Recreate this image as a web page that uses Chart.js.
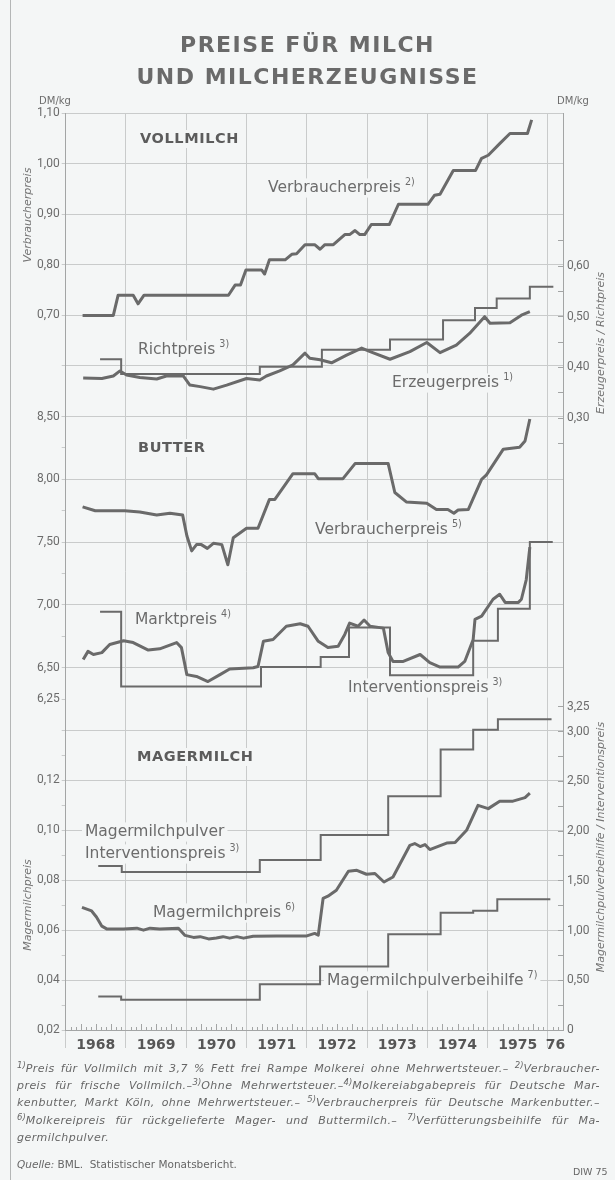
<!DOCTYPE html>
<html>
<head>
<meta charset="utf-8">
<script src="https://cdn.jsdelivr.net/npm/chart.js@4.4.0/dist/chart.umd.min.js"></script>
<style>
html,body{margin:0;padding:0;background:#f4f6f6;}
#page{position:relative;width:615px;height:1180px;overflow:hidden;background:#f4f6f6;}
#wrap{position:absolute;left:0;top:0;width:615px;height:1180px;}
#title{position:absolute;left:0;top:29px;width:615px;text-align:center;font-family:"DejaVu Sans",sans-serif;font-weight:bold;font-size:22px;line-height:32px;letter-spacing:1.5px;color:#6a6a6a;}
#notes{position:absolute;left:17px;top:1060px;width:583px;font-family:"DejaVu Sans",sans-serif;font-style:italic;font-size:11px;letter-spacing:0.45px;line-height:17.2px;color:#666;}
#notes .j{text-align:justify;text-align-last:justify;}
#notes sup{font-size:8.5px;line-height:0;vertical-align:4px;letter-spacing:0;}
#quelle{position:absolute;left:17px;top:1158px;font-family:"DejaVu Sans",sans-serif;font-size:10.5px;color:#666;}
#quelle i{font-style:italic;}
#diw{position:absolute;left:573px;top:1166px;font-family:"DejaVu Sans",sans-serif;font-size:9.5px;color:#666;}
</style>
</head>
<body>
<div id="page">
  <div id="wrap"><canvas id="c"></canvas></div>
  <div id="title">PREISE FÜR MILCH<br>UND MILCHERZEUGNISSE</div>
  <div id="notes">
    <div class="j"><sup>1)</sup>Preis für Vollmilch mit 3,7 % Fett frei Rampe Molkerei ohne Mehrwertsteuer.– <sup>2)</sup>Verbraucher-</div>
    <div class="j">preis für frische Vollmilch.–<sup>3)</sup>Ohne Mehrwertsteuer.–<sup>4)</sup>Molkereiabgabepreis für Deutsche Mar-</div>
    <div class="j">kenbutter, Markt Köln, ohne Mehrwertsteuer.– <sup>5)</sup>Verbraucherpreis für Deutsche Markenbutter.–</div>
    <div class="j"><sup>6)</sup>Molkereipreis für rückgelieferte Mager- und Buttermilch.– <sup>7)</sup>Verfütterungsbeihilfe für Ma-</div>
    <div>germilchpulver.</div>
  </div>
  <div id="quelle"><i>Quelle:</i> BML. &nbsp;Statistischer Monatsbericht.</div>
  <div id="diw">DIW 75</div>
</div>
<script>
// ---------------- DATA ----------------
// x axis (years)
const yearLines    = [1968, 1969, 1970, 1971, 1972, 1973, 1974, 1975, 1976];
const yearLabelPos = [1968.5, 1969.5, 1970.5, 1971.5, 1972.5, 1973.5, 1974.5, 1975.5, 1976.125];
const yearLabels   = ['1968', '1969', '1970', '1971', '1972', '1973', '1974', '1975', '76'];

// Vollmilch – Verbraucherpreis (DM/kg, left axis)
const vollVbDates  = [1968.28, 1968.79, 1968.87, 1969.12, 1969.20, 1969.30, 1970.70, 1970.81, 1970.90, 1970.99, 1971.25, 1971.30, 1971.38, 1971.64, 1971.75, 1971.83, 1971.97, 1972.13, 1972.22, 1972.30, 1972.44, 1972.63, 1972.71, 1972.80, 1972.88, 1972.96, 1973.07, 1973.37, 1973.52, 1974.01, 1974.12, 1974.21, 1974.43, 1974.80, 1974.90, 1975.01, 1975.20, 1975.37, 1975.66, 1975.73];
const vollVbValues = [0.70, 0.70, 0.74, 0.74, 0.723, 0.74, 0.74, 0.76, 0.76, 0.79, 0.79, 0.782, 0.81, 0.81, 0.821, 0.822, 0.84, 0.84, 0.831, 0.84, 0.84, 0.86, 0.86, 0.868, 0.86, 0.86, 0.88, 0.88, 0.92, 0.92, 0.938, 0.94, 0.987, 0.987, 1.011, 1.017, 1.04, 1.06, 1.06, 1.087];

// Vollmilch – Erzeugerpreis (right axis)
const ezDates  = [1968.29, 1968.60, 1968.79, 1968.90, 1969.01, 1969.23, 1969.51, 1969.67, 1969.95, 1970.06, 1970.23, 1970.45, 1970.67, 1971.00, 1971.22, 1971.33, 1971.55, 1971.77, 1971.97, 1972.05, 1972.22, 1972.41, 1972.66, 1972.91, 1973.05, 1973.38, 1973.71, 1973.99, 1974.21, 1974.48, 1974.70, 1974.95, 1975.04, 1975.37, 1975.56, 1975.70];
const ezValues = [0.379, 0.378, 0.383, 0.393, 0.385, 0.380, 0.377, 0.383, 0.383, 0.365, 0.362, 0.357, 0.365, 0.378, 0.375, 0.383, 0.393, 0.405, 0.428, 0.418, 0.415, 0.409, 0.424, 0.438, 0.431, 0.416, 0.431, 0.449, 0.429, 0.444, 0.467, 0.500, 0.487, 0.488, 0.503, 0.510];

// Vollmilch – Richtpreis (right axis, step)
const rpDates  = [1968.57, 1968.92, 1971.22, 1972.25, 1973.38, 1974.26, 1974.79, 1975.15, 1975.70, 1976.09];
const rpValues = [0.416, 0.387, 0.401, 0.435, 0.455, 0.493, 0.517, 0.536, 0.559, 0.559];

// Butter – Verbraucherpreis
const bvDates  = [1968.28, 1968.49, 1968.98, 1969.23, 1969.51, 1969.73, 1969.94, 1970.01, 1970.09, 1970.17, 1970.25, 1970.35, 1970.45, 1970.59, 1970.69, 1970.78, 1971.00, 1971.19, 1971.38, 1971.47, 1971.77, 1972.13, 1972.19, 1972.60, 1972.80, 1973.35, 1973.46, 1973.65, 1973.99, 1974.15, 1974.34, 1974.44, 1974.51, 1974.68, 1974.90, 1974.98, 1975.26, 1975.53, 1975.62, 1975.70];
const bvValues = [7.78, 7.75, 7.75, 7.74, 7.715, 7.73, 7.715, 7.55, 7.43, 7.48, 7.48, 7.45, 7.49, 7.48, 7.32, 7.535, 7.61, 7.61, 7.84, 7.84, 8.045, 8.045, 8.005, 8.005, 8.125, 8.125, 7.895, 7.82, 7.81, 7.76, 7.76, 7.73, 7.755, 7.76, 8.00, 8.035, 8.24, 8.255, 8.305, 8.48];

// Butter – Marktpreis
const bmDates  = [1968.29, 1968.37, 1968.46, 1968.60, 1968.73, 1968.96, 1969.12, 1969.37, 1969.56, 1969.84, 1969.92, 1970.01, 1970.17, 1970.36, 1970.56, 1970.72, 1971.11, 1971.19, 1971.28, 1971.44, 1971.66, 1971.89, 1972.02, 1972.19, 1972.35, 1972.52, 1972.63, 1972.71, 1972.85, 1972.95, 1973.05, 1973.27, 1973.35, 1973.43, 1973.60, 1973.88, 1974.04, 1974.21, 1974.51, 1974.62, 1974.76, 1974.79, 1974.90, 1975.09, 1975.20, 1975.29, 1975.51, 1975.56, 1975.64, 1975.70];
const bmValues = [6.565, 6.63, 6.605, 6.62, 6.685, 6.715, 6.70, 6.64, 6.65, 6.70, 6.66, 6.445, 6.43, 6.39, 6.445, 6.49, 6.50, 6.51, 6.71, 6.725, 6.83, 6.85, 6.83, 6.71, 6.66, 6.67, 6.765, 6.855, 6.83, 6.88, 6.83, 6.815, 6.62, 6.55, 6.55, 6.605, 6.54, 6.505, 6.505, 6.55, 6.725, 6.885, 6.91, 7.045, 7.085, 7.02, 7.02, 7.045, 7.20, 7.46];

// Butter – Interventionspreis (step)
const biDates  = [1968.57, 1968.92, 1971.24, 1972.23, 1972.70, 1973.38, 1974.76, 1975.17, 1975.70, 1976.08];
const biValues = [6.945, 6.35, 6.505, 6.585, 6.82, 6.44, 6.715, 6.97, 7.50, 7.50];

// Magermilch – Magermilchpreis (left axis)
const mpDates  = [1968.27, 1968.43, 1968.51, 1968.60, 1968.68, 1968.96, 1969.18, 1969.29, 1969.40, 1969.56, 1969.87, 1969.98, 1970.12, 1970.23, 1970.37, 1970.50, 1970.61, 1970.72, 1970.84, 1970.95, 1971.11, 1971.50, 1972.00, 1972.13, 1972.19, 1972.27, 1972.35, 1972.49, 1972.69, 1972.83, 1972.99, 1973.13, 1973.28, 1973.43, 1973.71, 1973.79, 1973.88, 1973.96, 1974.04, 1974.32, 1974.46, 1974.65, 1974.84, 1975.01, 1975.20, 1975.42, 1975.62, 1975.70];
const mpValues = [0.0691, 0.0677, 0.0653, 0.0616, 0.0605, 0.0605, 0.0608, 0.0600, 0.0608, 0.0605, 0.0608, 0.0579, 0.0571, 0.0574, 0.0565, 0.0569, 0.0574, 0.0568, 0.0574, 0.0568, 0.0576, 0.0577, 0.0577, 0.0587, 0.0580, 0.0727, 0.0736, 0.0760, 0.0836, 0.0840, 0.0824, 0.0827, 0.0793, 0.0813, 0.0940, 0.0947, 0.0935, 0.0943, 0.0923, 0.0949, 0.0951, 0.1000, 0.1100, 0.1087, 0.1117, 0.1117, 0.1131, 0.1149];

// Magermilchpulver Interventionspreis (right axis, step)
const mipDates  = [1968.54, 1968.93, 1971.22, 1972.23, 1973.35, 1974.22, 1974.76, 1975.17, 1976.06];
const mipValues = [1.65, 1.59, 1.71, 1.96, 2.35, 2.82, 3.02, 3.125, 3.125];

// Magermilchpulverbeihilfe (right axis, step)
const mbDates  = [1968.54, 1968.92, 1971.22, 1972.22, 1973.35, 1974.22, 1974.76, 1975.16, 1976.04];
const mbValues = [0.337, 0.304, 0.46, 0.638, 0.964, 1.18, 1.20, 1.315, 1.315];

// axis ticks
const vollTicks      = [0.50, 0.60, 0.70, 0.80, 0.90, 1.00, 1.10];
const vollLabels     = [0.70, 0.80, 0.90, 1.00, 1.10];
const erzTicks       = [0.25, 0.30, 0.35, 0.40, 0.45, 0.50, 0.55, 0.60, 0.65];
const erzLabels      = [0.30, 0.40, 0.50, 0.60];
const butterTicks    = [6.25, 6.50, 6.75, 7.00, 7.25, 7.50, 7.75, 8.00, 8.25, 8.50];
const butterLabels   = [6.25, 6.50, 7.00, 7.50, 8.00, 8.50];
const butterGrid     = [6.50, 7.00, 7.50, 8.00, 8.50];
const magerTicks     = [0.02, 0.03, 0.04, 0.05, 0.06, 0.07, 0.08, 0.09, 0.10, 0.11, 0.12, 0.13, 0.14];
const magerLabels    = [0.02, 0.04, 0.06, 0.08, 0.10, 0.12];
const magerGrid      = [0.02, 0.04, 0.06, 0.08, 0.10, 0.12, 0.14];
const pulverTicks    = [0, 0.25, 0.50, 0.75, 1.00, 1.25, 1.50, 1.75, 2.00, 2.25, 2.50, 2.75, 3.00, 3.25];
const pulverLabels   = [0, 0.50, 1.00, 1.50, 2.00, 2.50, 3.00, 3.25];

// ---------------- STYLE ----------------
const BG = '#f4f6f6';
const GRID = '#c9cbcb';
const BORDER = '#a3a5a5';
const LINE = '#6a6a6a';
const TXT = '#6c6c6c';
const FONT = '"DejaVu Sans", sans-serif';

const near = (a, b) => Math.abs(a - b) < 1e-6;
const inList = (v, arr) => arr.some(a => near(a, v));
const deNum = v => near(v, 0) ? '0' : v.toFixed(2).replace('.', ',');
const pts = (xs, ys) => xs.map((x, i) => ({x: x, y: ys[i]}));
const setTicks = arr => (s => { s.ticks = arr.map(v => ({value: v})); });

Chart.defaults.font.family = 'Roboto, sans-serif';
Chart.defaults.font.size = 12;
Chart.defaults.color = TXT;

function leftAxis(min, max, weight, order, ticks, labels, grid) {
  return {
    type: 'linear', position: 'left', stack: 'L', stackWeight: weight, weight: order,
    min: min, max: max,
    afterBuildTicks: setTicks(ticks),
    afterFit: s => { s.width = 65.7; },
    ticks: {autoSkip: false, padding: 2, color: TXT, font: {size: 12},
      callback: v => inList(v, labels) ? deNum(v) : ''},
    grid: {color: c => (c.tick && inList(c.tick.value, grid)) ? GRID : 'rgba(0,0,0,0)',
      tickColor: GRID, tickLength: 4, lineWidth: 1},
    border: {color: BORDER}
  };
}
function rightAxis(min, max, weight, order, ticks, labels) {
  return {
    type: 'linear', position: 'right', stack: 'R', stackWeight: weight, weight: order,
    min: min, max: max,
    afterBuildTicks: setTicks(ticks),
    afterFit: s => { s.width = 52; },
    ticks: {autoSkip: false, padding: 9, color: TXT, font: {size: 12},
      callback: v => inList(v, labels) ? deNum(v) : ''},
    grid: {color: 'rgba(0,0,0,0)', tickColor: BORDER, tickLength: -5, lineWidth: 1},
    border: {color: BORDER}
  };
}

// labels inside plot
const plotLabels = [
  {t: 'VOLLMILCH', x: 140, y: 139, bold: true, size: 14.5},
  {t: 'Verbraucherpreis', sup: '2)', x: 268, y: 188, size: 15.5},
  {t: 'Richtpreis', sup: '3)', x: 138, y: 350, size: 15.5},
  {t: 'Erzeugerpreis', sup: '1)', x: 392, y: 383, size: 15.5},
  {t: 'BUTTER', x: 138, y: 448, bold: true, size: 14.5},
  {t: 'Verbraucherpreis', sup: '5)', x: 315, y: 530, size: 15.5},
  {t: 'Marktpreis', sup: '4)', x: 135, y: 620, size: 15.5},
  {t: 'Interventionspreis', sup: '3)', x: 348, y: 688, size: 15.5},
  {t: 'MAGERMILCH', x: 137, y: 757, bold: true, size: 14.5},
  {t: 'Magermilchpulver', x: 85, y: 832, size: 15.5},
  {t: 'Interventionspreis', sup: '3)', x: 85, y: 854, size: 15.5},
  {t: 'Magermilchpreis', sup: '6)', x: 153, y: 913, size: 15.5},
  {t: 'Magermilchpulverbeihilfe', sup: '7)', x: 327, y: 981, size: 15.5}
];
const axisTitles = [
  {t: 'Verbraucherpreis', x: 28, y: 215},
  {t: 'Erzeugerpreis / Richtpreis', x: 601, y: 343},
  {t: 'Magermilchpreis', x: 28, y: 905},
  {t: 'Magermilchpulverbeihilfe / Interventionspreis', x: 601, y: 847}
];

const annot = {
  id: 'annot',
  beforeDatasetsDraw(chart) {
    const ctx = chart.ctx;
    for (const L of plotLabels) {
      ctx.save();
      const f = (L.bold ? 'bold ' : '') + L.size + 'px ' + FONT;
      ctx.font = f;
      if (L.bold && 'letterSpacing' in ctx) ctx.letterSpacing = '0.6px';
      const w = ctx.measureText(L.t).width;
      let sw = 0;
      const sf = (L.size * 0.62).toFixed(1) + 'px ' + FONT;
      if (L.sup) { ctx.font = sf; sw = ctx.measureText(L.sup).width + 4; }
      ctx.fillStyle = BG;
      ctx.fillRect(L.x - 3, L.y - L.size * 0.62, w + sw + 6, L.size * 1.24);
      ctx.fillStyle = L.bold ? '#5c5c5c' : TXT;
      ctx.textBaseline = 'middle';
      ctx.textAlign = 'left';
      ctx.font = f;
      ctx.fillText(L.t, L.x, L.y);
      if (L.sup) { ctx.font = sf; ctx.fillText(L.sup, L.x + w + 4, L.y - L.size * 0.33); }
      ctx.restore();
    }
  },
  afterDraw(chart) {
    const ctx = chart.ctx;
    const xs = chart.scales.x;
    const bottom = chart.chartArea.bottom;
    ctx.save();
    // monthly tick marks along the time axis
    ctx.strokeStyle = BORDER;
    ctx.lineWidth = 1;
    for (let m = 1; m < 99; m++) {
      if (m % 12 === 0) continue;
      const px = Math.round(xs.getPixelForValue(1968 + m / 12)) + 0.5;
      const len = (m % 3 === 0) ? 6 : 3;
      ctx.beginPath(); ctx.moveTo(px, bottom); ctx.lineTo(px, bottom - len); ctx.stroke();
    }
    // rotated axis titles
    ctx.fillStyle = '#747474';
    ctx.font = 'italic 11px ' + FONT;
    ctx.textAlign = 'center';
    ctx.textBaseline = 'middle';
    for (const T of axisTitles) {
      ctx.save(); ctx.translate(T.x, T.y); ctx.rotate(-Math.PI / 2);
      ctx.fillText(T.t, 0, 0); ctx.restore();
    }
    // unit labels
    ctx.font = '10px ' + FONT;
    ctx.fillStyle = TXT;
    ctx.fillText('DM/kg', 55, 101);
    ctx.fillText('DM/kg', 573, 101);
    // page frame line
    ctx.strokeStyle = '#b4b6b6';
    ctx.beginPath(); ctx.moveTo(10.5, 0); ctx.lineTo(10.5, 1180); ctx.stroke();
    ctx.restore();
  }
};

const thick = {borderColor: LINE, borderWidth: 3, pointRadius: 0, tension: 0, borderJoinStyle: 'round'};
const thin  = {borderColor: LINE, borderWidth: 2, pointRadius: 0, tension: 0, stepped: true};

new Chart(document.getElementById('c'), {
  type: 'line',
  data: {
    datasets: [
      Object.assign({label: 'Vollmilch Verbraucherpreis', data: pts(vollVbDates, vollVbValues), yAxisID: 'yV'}, thick),
      Object.assign({label: 'Erzeugerpreis', data: pts(ezDates, ezValues), yAxisID: 'yE'}, thick),
      Object.assign({label: 'Richtpreis', data: pts(rpDates, rpValues), yAxisID: 'yE'}, thin),
      Object.assign({label: 'Butter Verbraucherpreis', data: pts(bvDates, bvValues), yAxisID: 'yB'}, thick),
      Object.assign({label: 'Marktpreis', data: pts(bmDates, bmValues), yAxisID: 'yB'}, thick),
      Object.assign({label: 'Interventionspreis', data: pts(biDates, biValues), yAxisID: 'yB'}, thin),
      Object.assign({label: 'Magermilchpreis', data: pts(mpDates, mpValues), yAxisID: 'yM'}, thick),
      Object.assign({label: 'Magermilchpulver Interventionspreis', data: pts(mipDates, mipValues), yAxisID: 'yP'}, thin),
      Object.assign({label: 'Magermilchpulverbeihilfe', data: pts(mbDates, mbValues), yAxisID: 'yP'}, thin)
    ]
  },
  options: {
    responsive: true,
    maintainAspectRatio: false,
    animation: false,
    events: [],
    layout: {padding: {top: 113.3, bottom: 120, left: 0, right: 0}},
    plugins: {legend: {display: false}, tooltip: {enabled: false}},
    scales: {
      x: {
        type: 'linear', position: 'bottom', min: 1968, max: 1976.25,
        afterBuildTicks: s => {
          s.ticks = yearLines.concat(yearLabelPos).sort((a, b) => a - b).map(v => ({value: v}));
        },
        afterFit: s => { s.height = 30; },
        ticks: {autoSkip: false, maxRotation: 0, minRotation: 0, padding: -11, color: '#565656',
          font: {family: 'DejaVu Sans', size: 14, weight: 'bold'},
          callback: v => { const i = yearLabelPos.findIndex(p => near(p, v)); return i >= 0 ? yearLabels[i] : ''; }},
        grid: {
          color: c => (c.tick && inList(c.tick.value, yearLines)) ? GRID : 'rgba(0,0,0,0)',
          tickColor: c => (c.tick && inList(c.tick.value, yearLines)) ? GRID : 'rgba(0,0,0,0)',
          tickLength: 18, lineWidth: 1
        },
        border: {color: BORDER}
      },
      yV: leftAxis(0.50, 1.10, 303.2, 3, vollTicks, vollLabels, vollTicks),
      yB: leftAxis(6.00, 8.50, 314.0, 2, butterTicks, butterLabels, butterGrid),
      yM: leftAxis(0.02, 0.14, 299.5, 1, magerTicks, magerLabels, magerGrid),
      yE: rightAxis(-0.2699, 0.9014, 593.5, 1, erzTicks, erzLabels),
      yP: rightAxis(0, 3.25, 323.2, 2, pulverTicks, pulverLabels)
    }
  },
  plugins: [annot]
});
</script>
</body>
</html>
